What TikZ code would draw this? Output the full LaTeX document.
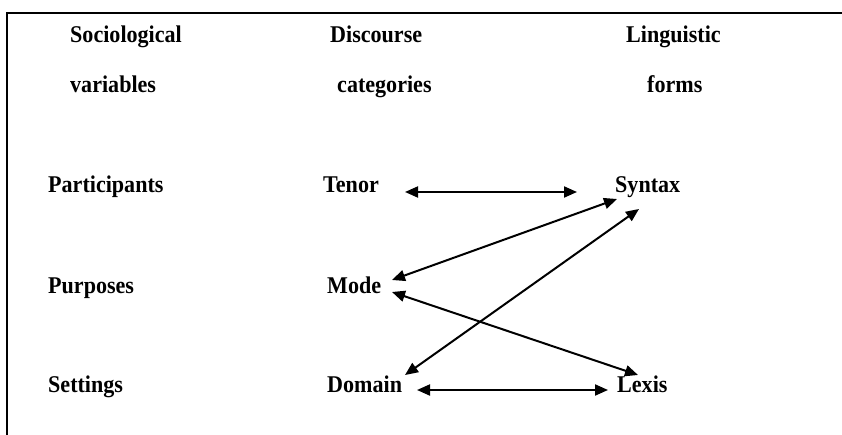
\documentclass[tikz,border=0pt]{standalone}
\usepackage{fontspec}
\setmainfont{Liberation Serif}[FakeStretch=0.92]
\usetikzlibrary{arrows.meta}
\tikzset{
  lbl/.style={anchor=base west, inner sep=0pt, font=\fontsize{24}{28}\selectfont\bfseries},
  link/.style={line width=2pt, {Triangle[length=13pt,width=11pt]}-{Triangle[length=13pt,width=11pt]}}
}
\begin{document}
\begin{tikzpicture}[x=1pt,y=-1pt]
\useasboundingbox (0,0) rectangle (842,435);
\draw[line width=1.6pt] (842,13) -- (7,13) -- (7,436);
% headers
\node[lbl] (h1a) at (70,43) {Sociological};
\node[lbl] (h1b) at (70,93) {variables};
\node[lbl] (h2a) at (330,43) {Discourse};
\node[lbl] (h2b) at (337,93) {categories};
\node[lbl] (h3a) at (626,43) {Linguistic};
\node[lbl] (h3b) at (647,93) {forms};
% rows
\node[lbl] (part) at (48,193) {Participants};
\node[lbl] (purp) at (48,293) {Purposes};
\node[lbl] (sett) at (48,392) {Settings};
\node[lbl] (tenor) at (323,193) {Tenor};
\node[lbl] (mode) at (327,293) {Mode};
\node[lbl] (domain) at (327,392) {Domain};
\node[lbl] (syntax) at (615,193) {Syntax};
\node[lbl] (lexis) at (617,392) {Lexis};
% connector ends
\coordinate (tenorR) at (405,192);
\coordinate (syntaxL) at (577,192);
\coordinate (modeRa) at (392,280);
\coordinate (syntaxA) at (617,199);
\coordinate (domainT) at (405,375);
\coordinate (syntaxB) at (639,209);
\coordinate (modeRb) at (392,292);
\coordinate (lexisT) at (638,375);
\coordinate (domainR) at (417,390);
\coordinate (lexisL) at (608,390);
\draw[link] (tenorR) -- (syntaxL);
\draw[link] (modeRa) -- (syntaxA);
\draw[link] (domainT) -- (syntaxB);
\draw[link] (modeRb) -- (lexisT);
\draw[link] (domainR) -- (lexisL);
\end{tikzpicture}
\end{document}
